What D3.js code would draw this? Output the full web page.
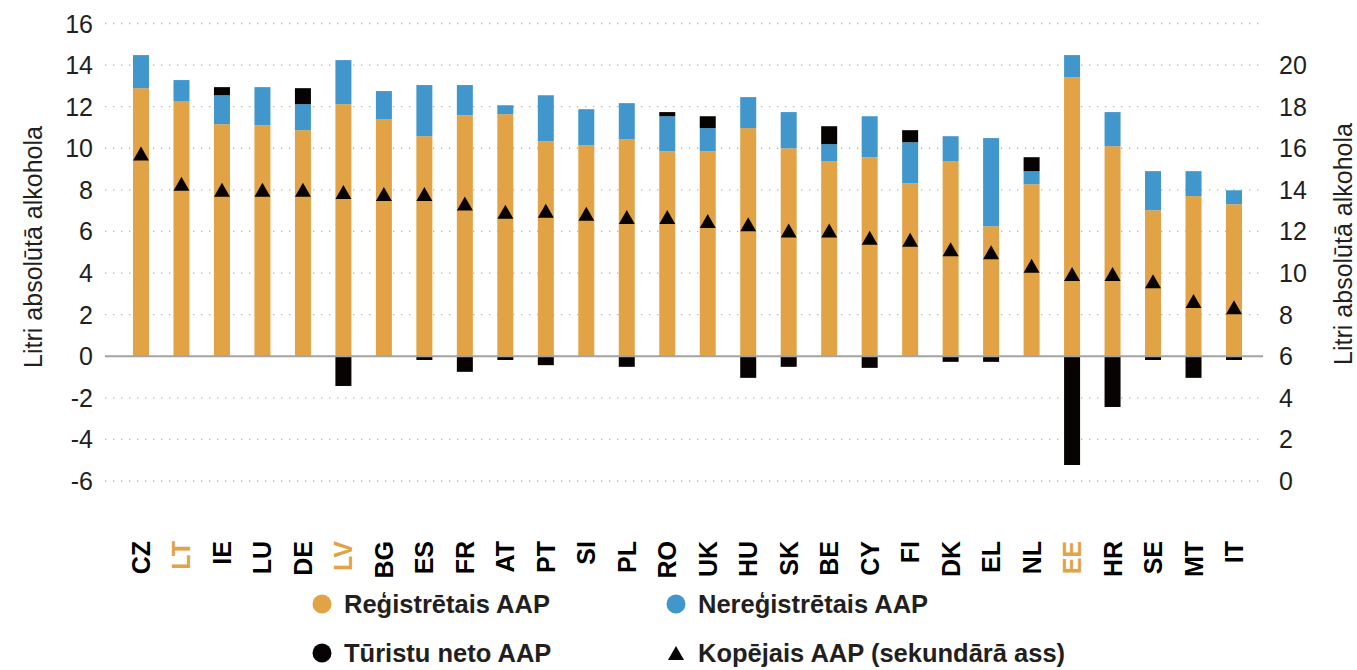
<!DOCTYPE html>
<html>
<head>
<meta charset="utf-8">
<script src="https://cdnjs.cloudflare.com/ajax/libs/d3/7.8.5/d3.min.js"></script>
<style>
  body { margin: 0; background: #fff; }
  svg { font-family: "Liberation Sans", Arial, Helvetica, sans-serif; }
  .tick-label { font-size: 25px; fill: #231f20; }
  .axis-title { font-size: 25px; fill: #231f20; }
  .cat-label { font-size: 25px; font-weight: bold; }
  .legend-label { font-size: 25.5px; font-weight: bold; fill: #231f20; }
</style>
</head>
<body>
<div id="chart"></div>
<script>
//data
var countries = ["CZ", "LT", "IE", "LU", "DE", "LV", "BG", "ES", "FR", "AT", "PT", "SI", "PL", "RO",
    "UK", "HU", "SK", "BE", "CY", "FI", "DK", "EL", "NL", "EE", "HR", "SE", "MT", "IT"];
var highlighted = ["LT", "LV", "EE"];
//registered APC
var registered = [12.89, 12.27, 11.16, 11.11, 10.87, 12.12, 11.40, 10.58, 11.59, 11.64, 10.34, 10.15, 10.44, 9.86,
    9.86, 10.97, 10.00, 9.38, 9.57, 8.32, 9.38, 6.25, 8.27, 13.42, 10.10, 7.02, 7.70, 7.31];
//unregistered APC
var unregistered = [1.59, 1.01, 1.39, 1.83, 1.25, 2.12, 1.35, 2.46, 1.45, 0.43, 2.21, 1.73, 1.73, 1.68,
    1.11, 1.49, 1.74, 0.82, 1.97, 1.97, 1.20, 4.24, 0.63, 1.06, 1.64, 1.88, 1.20, 0.67];
//tourist net APC
var tourist = [0, 0, 0.39, 0, 0.77, -1.43, 0, -0.18, -0.75, -0.18, -0.43, 0, -0.51, 0.20,
    0.57, -1.04, -0.51, 0.86, -0.56, 0.58, -0.27, -0.27, 0.67, -5.23, -2.44, -0.18, -1.04, -0.18];
//total APC (secondary axis)
var total = [15.75, 14.3, 14.0, 14.0, 14.0, 13.9, 13.8, 13.8, 13.35, 12.95, 13.0, 12.85, 12.7, 12.7,
    12.5, 12.35, 12.05, 12.05, 11.7, 11.6, 11.15, 11.0, 10.35, 9.95, 9.95, 9.6, 8.65, 8.35];

var leftTicks = [-6, -4, -2, 0, 2, 4, 6, 8, 10, 12, 14, 16];
var rightTicks = [0, 2, 4, 6, 8, 10, 12, 14, 16, 18, 20];
var axisTitle = "Litri absolūtā alkohola";
var legendItems = ["Reģistrētais AAP", "Nereģistrētais AAP", "Tūristu neto AAP", "Kopējais AAP (sekundārā ass)"];

var colors = {reg: "#e1a345", unreg: "#4197cc", tour: "#070303", total: "#070303", highlight: "#e1a345"};

makeChart();

function makeChart(){
    var width = 1357, height = 670;
    var plotLeft = 105, plotRight = 1263, barWidth = 16;
    var svg = d3.select("#chart").append("svg").attr("width", width).attr("height", height);

    //scales
    var x = d3.scalePoint().domain(countries).range([141, 1234]);
    var y = d3.scaleLinear().domain([-6, 16]).range([481, 23.5]);
    var y2 = d3.scaleLinear().domain([0, 22]).range([481, 23.5]);

    //grid (dotted)
    svg.append("g").selectAll("line")
        .data(leftTicks.filter(function(d){ return d != 0; }))
        .enter().append("line")
        .attr("x1", plotLeft).attr("x2", plotRight)
        .attr("y1", function(d){ return y(d); })
        .attr("y2", function(d){ return y(d); })
        .attr("stroke", "#b4b4b4")
        .attr("stroke-width", 1.3)
        .attr("stroke-dasharray", "1.3 6.7");

    //left tick labels
    svg.append("g").selectAll("text")
        .data(leftTicks).enter().append("text")
        .attr("class", "tick-label")
        .attr("x", 93)
        .attr("y", function(d){ return y(d); })
        .attr("dy", "0.36em")
        .attr("text-anchor", "end")
        .text(function(d){ return d; });

    //right tick labels
    svg.append("g").selectAll("text")
        .data(rightTicks).enter().append("text")
        .attr("class", "tick-label")
        .attr("x", 1279)
        .attr("y", function(d){ return y2(d); })
        .attr("dy", "0.36em")
        .attr("text-anchor", "start")
        .text(function(d){ return d; });

    //axis titles
    svg.append("text")
        .attr("class", "axis-title")
        .attr("transform", "translate(42,247) rotate(-90)")
        .attr("text-anchor", "middle")
        .text(axisTitle);
    svg.append("text")
        .attr("class", "axis-title")
        .attr("transform", "translate(1352,244) rotate(-90)")
        .attr("text-anchor", "middle")
        .text(axisTitle);

    //bars: registered
    svg.append("g").selectAll("rect")
        .data(countries).enter().append("rect")
        .attr("x", function(d){ return x(d) - barWidth/2; })
        .attr("width", barWidth)
        .attr("y", function(d, i){ return y(registered[i]); })
        .attr("height", function(d, i){ return y(0) - y(registered[i]); })
        .attr("fill", colors.reg);

    //bars: unregistered, stacked on registered
    svg.append("g").selectAll("rect")
        .data(countries).enter().append("rect")
        .attr("x", function(d){ return x(d) - barWidth/2; })
        .attr("width", barWidth)
        .attr("y", function(d, i){ return y(registered[i] + unregistered[i]); })
        .attr("height", function(d, i){ return y(registered[i]) - y(registered[i] + unregistered[i]); })
        .attr("fill", colors.unreg);

    //bars: tourists (positive on top, negative below zero)
    svg.append("g").selectAll("rect")
        .data(countries).enter().append("rect")
        .attr("x", function(d){ return x(d) - barWidth/2; })
        .attr("width", barWidth)
        .attr("y", function(d, i){
            if (tourist[i] >= 0) return y(registered[i] + unregistered[i] + tourist[i]);
            return y(0);
        })
        .attr("height", function(d, i){ return Math.abs(y(0) - y(Math.abs(tourist[i]))); })
        .attr("fill", colors.tour);

    //zero line
    svg.append("line")
        .attr("x1", plotLeft).attr("x2", plotRight)
        .attr("y1", y(0)).attr("y2", y(0))
        .attr("stroke", "#a3a3a3")
        .attr("stroke-width", 2);

    //triangles for total (secondary axis)
    var tw = 16, th = 14;
    svg.append("g").selectAll("path")
        .data(countries).enter().append("path")
        .attr("d", function(d, i){
            var cx = x(d), cy = y2(total[i]);
            return "M" + (cx - tw/2) + "," + (cy + th/2) + "L" + cx + "," + (cy - th/2) +
                "L" + (cx + tw/2) + "," + (cy + th/2) + "Z";
        })
        .attr("fill", colors.total);

    //category labels
    svg.append("g").selectAll("text")
        .data(countries).enter().append("text")
        .attr("class", "cat-label")
        .attr("transform", function(d){ return "translate(" + (x(d) + 9) + ",541) rotate(-90)"; })
        .attr("text-anchor", "end")
        .attr("fill", function(d){ return highlighted.indexOf(d) >= 0 ? colors.highlight : "#000"; })
        .text(function(d){ return d; });

    //legend
    var legendPos = [[322, 604], [676, 604], [322, 653], [676, 653]];
    var legendColors = [colors.reg, colors.unreg, colors.tour, colors.total];
    var lg = svg.append("g");
    legendItems.forEach(function(name, i){
        var p = legendPos[i];
        if (i == 3){
            lg.append("path")
                .attr("d", "M" + (p[0] - 8) + "," + (p[1] + 7) + "L" + p[0] + "," + (p[1] - 7) +
                    "L" + (p[0] + 8) + "," + (p[1] + 7) + "Z")
                .attr("fill", legendColors[i]);
        } else {
            lg.append("circle").attr("cx", p[0]).attr("cy", p[1]).attr("r", 9.5)
                .attr("fill", legendColors[i]);
        }
        lg.append("text")
            .attr("class", "legend-label")
            .attr("x", p[0] + 22)
            .attr("y", p[1])
            .attr("dy", "0.35em")
            .text(name);
    });
}
</script>
</body>
</html>
